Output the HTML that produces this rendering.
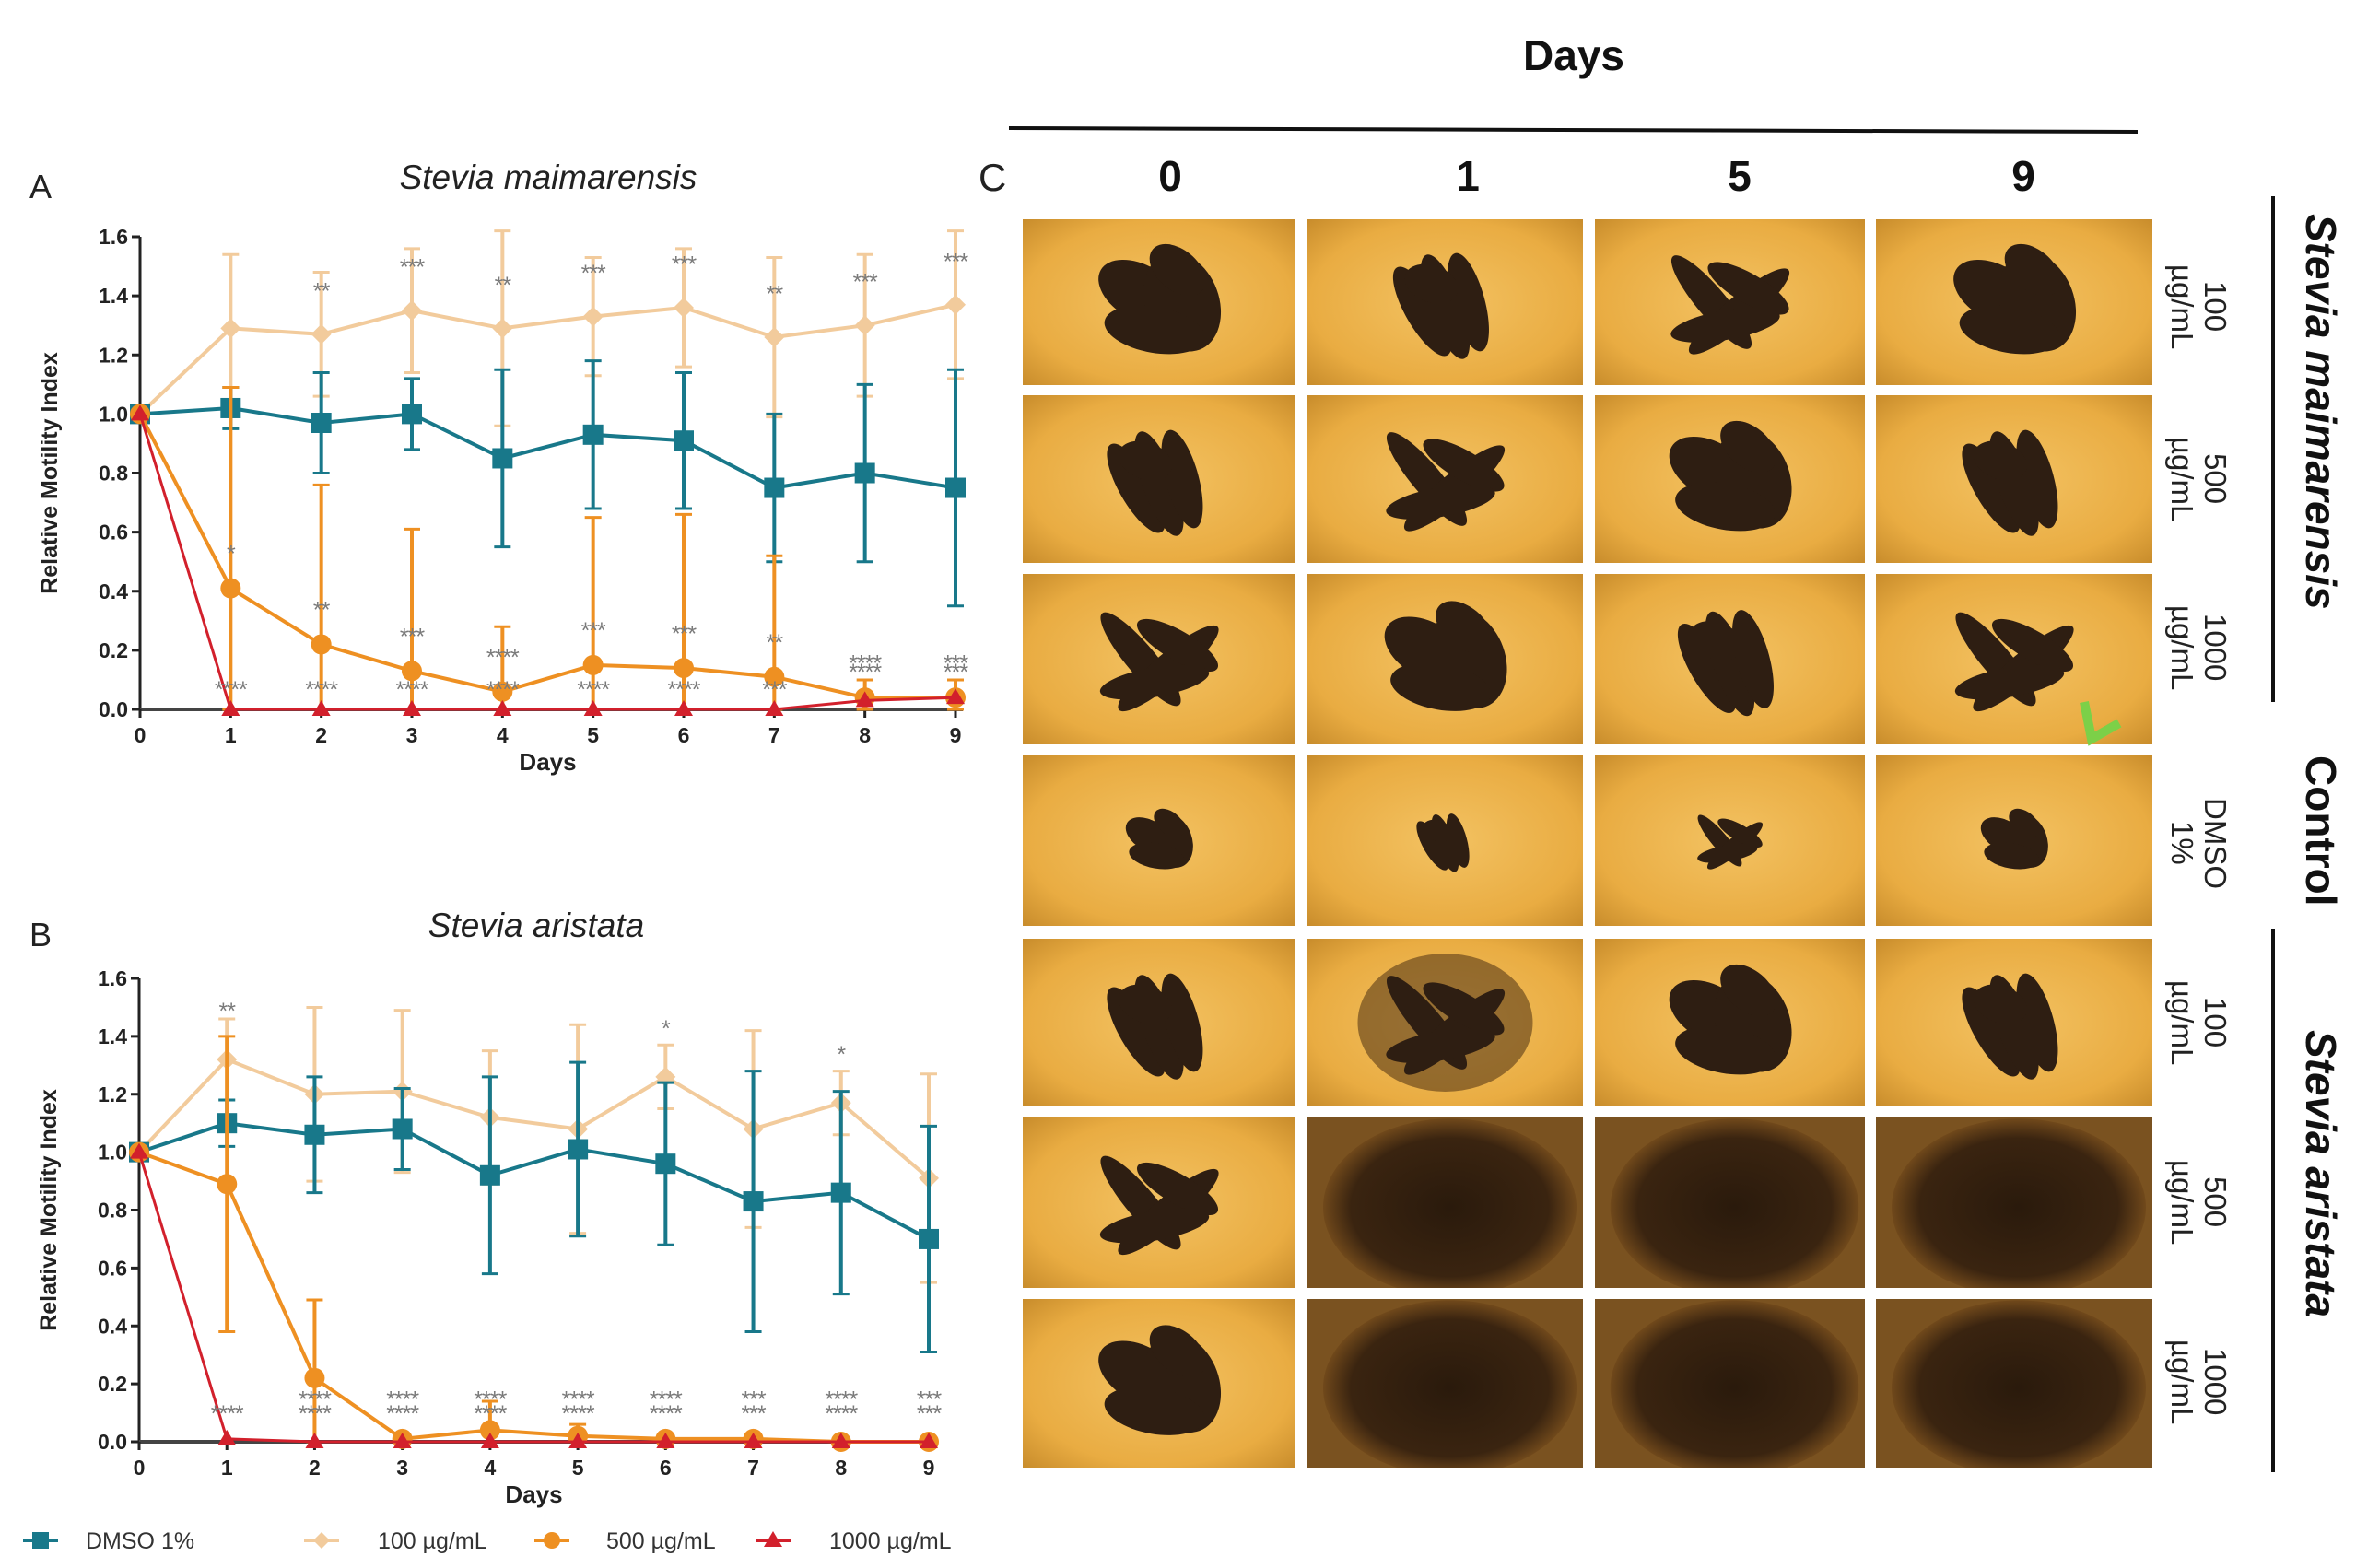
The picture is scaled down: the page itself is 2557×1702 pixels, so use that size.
<!DOCTYPE html>
<html><head><meta charset="utf-8">
<style>
html,body{margin:0;padding:0;background:#fff;}
body{width:2557px;height:1702px;position:relative;overflow:hidden;font-family:"Liberation Sans",sans-serif;}
.vert{writing-mode:vertical-rl;position:absolute;white-space:nowrap;}
</style></head>
<body>
<svg id="fig" width="2557" height="1702" viewBox="0 0 2557 1702" style="position:absolute;left:0;top:0" font-family="Liberation Sans, sans-serif">
<defs>
<radialGradient id="amber" cx="50%" cy="50%" r="70%">
<stop offset="0%" stop-color="#f3c262"/><stop offset="70%" stop-color="#e9ac42"/><stop offset="100%" stop-color="#c98d2c"/>
</radialGradient>
<radialGradient id="darkwell" cx="50%" cy="50%" r="65%">
<stop offset="0%" stop-color="#2a1a0c"/><stop offset="60%" stop-color="#3a2410"/><stop offset="85%" stop-color="#8a5a20"/><stop offset="100%" stop-color="#c08a3a"/>
</radialGradient>
</defs>
</svg>
<script>
// ---------- Chart data (panel A: Stevia maimarensis) ----------
const days = [0,1,2,3,4,5,6,7,8,9];
const yTicks = [0.0,0.2,0.4,0.6,0.8,1.0,1.2,1.4,1.6];
const seriesNames = ["DMSO 1%","100 µg/mL","500 µg/mL","1000 µg/mL"];
const aDmso = [1,1.02,0.97,1.0,0.85,0.93,0.91,0.75,0.80,0.75];
const aDmsoErr = [0,0.07,0.17,0.12,0.30,0.25,0.23,0.25,0.30,0.40];
const a100 = [1,1.29,1.27,1.35,1.29,1.33,1.36,1.26,1.30,1.37];
const a100Err = [0,0.25,0.21,0.21,0.33,0.20,0.20,0.27,0.24,0.25];
const a500 = [1,0.41,0.22,0.13,0.06,0.15,0.14,0.11,0.04,0.04];
const a500Err = [0,0.68,0.54,0.48,0.22,0.50,0.52,0.41,0.06,0.06];
const a1000 = [1,0,0,0,0,0,0,0,0.03,0.04];
const aStarsTop = ["","","**","***","**","***","***","**","***","***"];
const aStarsMid = ["","*","**","***","****","***","***","**","****","***"];
const aStarsMid2 = ["","","","","","","","","****","***"];
const aStarsLow = ["","****","****","****","****","****","****","***","",""];
// ---------- Chart data (panel B: Stevia aristata) ----------
const bDmso = [1,1.10,1.06,1.08,0.92,1.01,0.96,0.83,0.86,0.70];
const bDmsoErr = [0,0.08,0.20,0.14,0.34,0.30,0.28,0.45,0.35,0.39];
const b100 = [1,1.32,1.20,1.21,1.12,1.08,1.26,1.08,1.17,0.91];
const b100Err = [0,0.14,0.30,0.28,0.23,0.36,0.11,0.34,0.11,0.36];
const b500 = [1,0.89,0.22,0.01,0.04,0.02,0.01,0.01,0,0];
const b500Err = [0,0.51,0.27,0,0.10,0.04,0,0,0,0];
const b1000 = [1,0.01,0,0,0,0,0,0,0,0];
const bStarsTop = ["","**","","","","","*","","*",""];
const bStarsMid = ["","","****","****","****","****","****","***","****","***"];
const bStarsLow = ["","****","****","****","****","****","****","***","****","***"];

const NS="http://www.w3.org/2000/svg";
const svg=document.getElementById('fig');
const defs=svg.querySelector('defs');
function mk(tag,attrs,parent){const e=document.createElementNS(NS,tag);for(const k in attrs)e.setAttribute(k,attrs[k]);(parent||svg).appendChild(e);return e;}
function txt(s,attrs,parent){const e=mk('text',attrs,parent);e.textContent=s;return e;}

const C_DMSO="#18788a",C_100="#f2cb9c",C_500="#ee9022",C_1000="#d2202c";

function drawChart(cfg){
  const g=mk('g',{});
  
  
  const x=d=>cfg.x0+(d-days[0])*(cfg.x9-cfg.x0)/(days[days.length-1]-days[0]);
  const y=v=>cfg.y0+(v-0)*(cfg.y16-cfg.y0)/1.6;
  const ya=mk('line',{x1:cfg.x0,y1:cfg.y16,x2:cfg.x0,y2:cfg.y0,stroke:'#222','stroke-width':3},g);
  
  const xa=mk('line',{x1:cfg.x0,y1:cfg.y0,x2:x(9)+8,y2:cfg.y0,stroke:'#444','stroke-width':4},g);
  
  yTicks.forEach(t=>{
    mk('line',{x1:cfg.x0-9,y1:y(t),x2:cfg.x0,y2:y(t),stroke:'#222','stroke-width':3},g);
    const lb=txt(t.toFixed(1),{x:cfg.x0-13,y:y(t)+8,'text-anchor':'end','font-size':23,'font-weight':'bold',fill:'#222'},g);
    
  });
  days.forEach(d=>{
    mk('line',{x1:x(d),y1:cfg.y0,x2:x(d),y2:cfg.y0+9,stroke:'#222','stroke-width':3},g);
    const lb=txt(String(d),{x:x(d),y:cfg.y0+36,'text-anchor':'middle','font-size':23,'font-weight':'bold',fill:'#222'},g);
    
  });
  const xt=txt('Days',{x:(cfg.x0+x(9))/2,y:cfg.y0+66,'text-anchor':'middle','font-size':26,'font-weight':'bold',fill:'#222'},g);
  
  const yc=(cfg.y0+cfg.y16)/2;
  const yt=txt('Relative Motility Index',{x:0,y:0,transform:`translate(${cfg.x0-90},${yc}) rotate(-90)`,'text-anchor':'middle','font-size':25,'font-weight':'bold',fill:'#222'},g);
  
  const ti=txt(cfg.title,{x:cfg.titleX,y:cfg.titleY,'text-anchor':'middle','font-size':37,'font-style':'italic',fill:'#222'},g);
  
  const pl=txt(cfg.letter,{x:32,y:cfg.titleY+10,'font-size':36,fill:'#222'},g);
  

  function series(vals,err,color,shape,sname,lw,ms){
    const sg=mk('g',{},g);
    
    if(err){vals.forEach((v,i)=>{if(!err[i])return;
      const t=Math.min(1.62,v+err[i]),b=Math.max(0,v-err[i]);
      mk('line',{x1:x(days[i]),y1:y(t),x2:x(days[i]),y2:y(b),stroke:color,'stroke-width':4},sg);
      mk('line',{x1:x(days[i])-9,y1:y(t),x2:x(days[i])+9,y2:y(t),stroke:color,'stroke-width':3},sg);
      mk('line',{x1:x(days[i])-9,y1:y(b),x2:x(days[i])+9,y2:y(b),stroke:color,'stroke-width':3},sg);
    });}
    mk('polyline',{points:vals.map((v,i)=>x(days[i])+','+y(v)).join(' '),fill:'none',stroke:color,'stroke-width':lw},sg);
    vals.forEach((v,i)=>{
      let m;
      if(shape==='sq')m=mk('rect',{x:x(days[i])-ms,y:y(v)-ms,width:2*ms,height:2*ms,fill:color},sg);
      else if(shape==='ci')m=mk('circle',{cx:x(days[i]),cy:y(v),r:ms,fill:color},sg);
      else if(shape==='di')m=mk('polygon',{points:`${x(days[i])},${y(v)-ms} ${x(days[i])+ms},${y(v)} ${x(days[i])},${y(v)+ms} ${x(days[i])-ms},${y(v)}`,fill:color},sg);
      else m=mk('polygon',{points:`${x(days[i])},${y(v)-ms} ${x(days[i])+ms},${y(v)+ms*0.7} ${x(days[i])-ms},${y(v)+ms*0.7}`,fill:color},sg);
      
    });
  }
  series(cfg.s100,cfg.e100,C_100,'di','series-100',4,11);
  series(cfg.sD,cfg.eD,C_DMSO,'sq','series-dmso',4,11);
  series(cfg.s500,cfg.e500,C_500,'ci','series-500',4,11);
  series(cfg.s1000,null,C_1000,'tr','series-1000',3,10);
  cfg.stars.forEach(([arr,vals,off])=>{
    arr.forEach((s,i)=>{ if(!s)return;
      const yy= vals? y(Math.min(1.55,vals[i]+(off||0))) : y(off);
      const st=txt(s,{x:x(days[i]),y:yy,'text-anchor':'middle','font-size':25,fill:'#7a7a7a','letter-spacing':'-1'},g);
      
    });
  });
}

drawChart({name:'chart-a-stevia-maimarensis',title:'Stevia maimarensis',letter:'A',titleX:595,titleY:205,
  x0:152,x9:1037,y0:770,y16:257,
  sD:aDmso,eD:aDmsoErr,s100:a100,e100:a100Err,s500:a500,e500:a500Err,s1000:a1000,
  stars:[[aStarsTop,a100,0.12],[aStarsMid,a500,0.09],[aStarsMid2,null,0.10],[aStarsLow,null,0.04]]});
drawChart({name:'chart-b-stevia-aristata',title:'Stevia aristata',letter:'B',titleX:582,titleY:1017,
  x0:151,x9:1008,y0:1565,y16:1062,
  sD:bDmso,eD:bDmsoErr,s100:b100,e100:b100Err,s500:b500,e500:b500Err,s1000:b1000,
  stars:[[bStarsTop,b100,0.14],[bStarsMid,null,0.12],[bStarsLow,null,0.07]]});

// legend
const leg=mk('g',{});

const legX=[25,330,580,820],legC=[C_DMSO,C_100,C_500,C_1000],legS=['sq','di','ci','tr'];
seriesNames.forEach((n,i)=>{
  const eg=mk('g',{},leg);
  
  const lx=legX[i],ly=1672;
  mk('line',{x1:lx,y1:ly,x2:lx+38,y2:ly,stroke:legC[i],'stroke-width':4},eg);
  const cx=lx+19;
  if(legS[i]==='sq')mk('rect',{x:cx-9,y:ly-9,width:18,height:18,fill:legC[i]},eg);
  else if(legS[i]==='ci')mk('circle',{cx:cx,cy:ly,r:9,fill:legC[i]},eg);
  else if(legS[i]==='di')mk('polygon',{points:`${cx},${ly-9} ${cx+9},${ly} ${cx},${ly+9} ${cx-9},${ly}`,fill:legC[i]},eg);
  else mk('polygon',{points:`${cx},${ly-10} ${cx+10},${ly+7} ${cx-10},${ly+7}`,fill:legC[i]},eg);
  txt(n,{x:lx+[68,80,78,80][i],y:ly+9,'font-size':25,fill:'#333'},eg);
});

// ---------- Panel C: image grid ----------
const colX=[1110,1419,1731,2036],colW=[296,299,293,300];
const rowY=[238,429,623,820,1019,1213,1410],rowH=[180,182,185,185,182,185,183];
const colLabels=['0','1','5','9'];
const grid=mk('g',{});

const blobSets=[
 [[-20,-10,50,30,30],[25,0,40,55,-20],[-5,30,55,25,10],[20,-35,35,22,40]],
 [[-25,10,55,18,60],[0,5,60,18,70],[25,0,55,18,75],[-15,-20,30,20,20]],
 [[-20,0,65,16,50],[10,10,70,16,-40],[20,-15,50,16,30],[-5,25,60,16,-10]],
];
for(let r=0;r<7;r++){for(let c=0;c<4;c++){
  const X=colX[c],Y=rowY[r],W=colW[c],H=rowH[r];
  const cp=mk('clipPath',{id:`clip${r}${c}`},defs);
  mk('rect',{x:X,y:Y,width:W,height:H},cp);
  const cg=mk('g',{'clip-path':`url(#clip${r}${c})`},grid);
  
  
  const dark=(r>=5&&c>=1);
  mk('rect',{x:X,y:Y,width:W,height:H,fill:'url(#amber)'},cg);
  const cx=X+W/2,cy=Y+H/2;
  if(dark){
    mk('rect',{x:X,y:Y,width:W,height:H,fill:'#7a5220'},cg);
    mk('ellipse',{cx:cx+5,cy:cy+5,rx:W*0.46,ry:H*0.52,fill:'url(#darkwell)'},cg);
  } else if(r===4 && c===1){
    mk('ellipse',{cx:cx,cy:cy,rx:95,ry:75,fill:'#5a3a18',opacity:0.6},cg);
  }
  if(!dark){
    const sc=(r===3)?0.55:1;
    const set=blobSets[(r+c)%3];
    set.forEach(b=>{
      mk('ellipse',{cx:cx+b[0]*sc,cy:cy+b[1]*sc,rx:b[2]*sc,ry:b[3]*sc,fill:'#2e1e12',transform:`rotate(${b[4]} ${cx+b[0]*sc} ${cy+b[1]*sc})`},cg);
    });
  }
}}
const arr=mk('polyline',{points:'2262,762 2270,802 2300,785',fill:'none',stroke:'#7cd048','stroke-width':10});


const dh=txt('Days',{x:1708,y:76,'text-anchor':'middle','font-size':46,'font-weight':'bold',fill:'#111'});

const hl=mk('line',{x1:1095,y1:139,x2:2320,y2:143,stroke:'#111','stroke-width':4});

const cl=txt('C',{x:1062,y:207,'font-size':42,fill:'#222'});

const colCx=[1270,1593,1888,2196];
colLabels.forEach((l,i)=>{
  const t=txt(l,{x:colCx[i],y:207,'text-anchor':'middle','font-size':46,'font-weight':'bold',fill:'#111'});
  
});
[[213,762],[1008,1598]].forEach(([a,b])=>{
  const l=mk('line',{x1:2467,y1:a,x2:2467,y2:b,stroke:'#111','stroke-width':4});
  
});
</script>
<div class="vert" style="left:2350px;top:268px;font-size:33px;line-height:36px;color:#222;text-align:center;height:130px">100<br>µg/mL</div>
<div class="vert" style="left:2350px;top:455px;font-size:33px;line-height:36px;color:#222;text-align:center;height:130px">500<br>µg/mL</div>
<div class="vert" style="left:2350px;top:628px;font-size:33px;line-height:36px;color:#222;text-align:center;height:150px">1000<br>µg/mL</div>
<div class="vert" style="left:2350px;top:840px;font-size:33px;line-height:36px;color:#222;text-align:center;height:150px">DMSO<br>1%</div>
<div class="vert" style="left:2350px;top:1045px;font-size:33px;line-height:36px;color:#222;text-align:center;height:130px">100<br>µg/mL</div>
<div class="vert" style="left:2350px;top:1240px;font-size:33px;line-height:36px;color:#222;text-align:center;height:130px">500<br>µg/mL</div>
<div class="vert" style="left:2350px;top:1425px;font-size:33px;line-height:36px;color:#222;text-align:center;height:150px">1000<br>µg/mL</div>
<div class="vert" style="left:2492px;top:232px;font-size:46px;font-weight:bold;font-style:italic;color:#111">Stevia maimarensis</div>
<div class="vert" style="left:2492px;top:820px;font-size:46px;font-weight:bold;color:#111">Control</div>
<div class="vert" style="left:2492px;top:1118px;font-size:46px;font-weight:bold;font-style:italic;color:#111">Stevia aristata</div>
</body></html>
